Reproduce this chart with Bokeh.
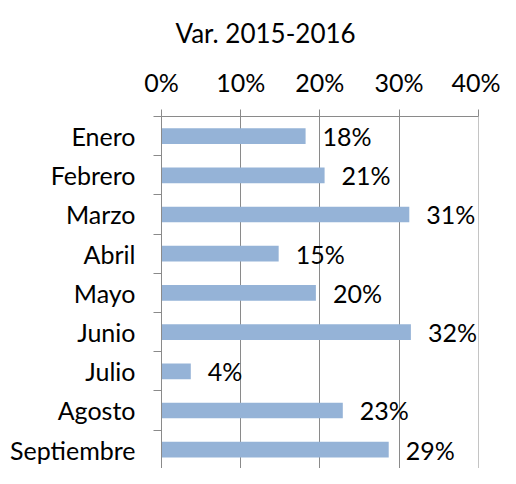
from bokeh.plotting import figure
from bokeh.models import Range1d, FixedTicker, NumeralTickFormatter, ColumnDataSource
from bokeh.embed import file_html
from bokeh.resources import INLINE
from bokeh.core.properties import value

months = ["Enero", "Febrero", "Marzo", "Abril", "Mayo", "Junio", "Julio", "Agosto", "Septiembre"]
variation = [0.182, 0.206, 0.313, 0.148, 0.195, 0.315, 0.037, 0.229, 0.287]
value_labels = ["18%", "21%", "31%", "15%", "20%", "32%", "4%", "23%", "29%"]
x_ticks = [0.0, 0.1, 0.2, 0.3, 0.4]
title_text = "Var. 2015-2016"

FONT = "Lato"
FS = "25px"
GRID = "#8a8a8a"

rows = list(range(len(months)))
src = ColumnDataSource(dict(y=rows, v=variation, lab=value_labels))

p = figure(width=500, height=468, x_range=Range1d(0, 0.4004), y_range=Range1d(8.48, -0.5),
           output_backend="svg", toolbar_location=None, x_axis_location="above",
           min_border_left=161, min_border_right=22, min_border_top=115, min_border_bottom=0)
p.outline_line_color = None
p.background_fill_color = "white"

p.hbar(y="y", right="v", left=0, height=0.4, source=src, fill_color="#95B3D7", line_color=None)
p.text(x="v", y="y", text="lab", source=src, x_offset=17, text_baseline="middle", text_align="left",
       text_font=value(FONT), text_font_size=FS, text_color="black")

xa = p.xaxis[0]
xa.ticker = FixedTicker(ticks=x_ticks, minor_ticks=[])
xa.formatter = NumeralTickFormatter(format="0%")
xa.major_tick_out = 7
xa.major_tick_in = 0
xa.minor_tick_out = 0
xa.minor_tick_in = 0
xa.axis_line_color = GRID
xa.major_tick_line_color = GRID
xa.major_label_text_font = FONT
xa.major_label_text_font_size = FS
xa.major_label_text_color = "black"
xa.major_label_standoff = 13

ya = p.yaxis[0]
ya.ticker = FixedTicker(ticks=rows, minor_ticks=[r - 0.5 for r in rows] + [len(rows) - 0.5])
ya.major_label_overrides = {i: m for i, m in enumerate(months)}
ya.major_tick_out = 0
ya.major_tick_in = 0
ya.minor_tick_out = 8
ya.minor_tick_in = 0
ya.axis_line_color = GRID
ya.minor_tick_line_color = GRID
ya.major_label_text_font = FONT
ya.major_label_text_font_size = FS
ya.major_label_text_color = "black"
ya.major_label_standoff = 18

p.xgrid.ticker = FixedTicker(ticks=x_ticks)
p.xgrid.grid_line_color = GRID
p.ygrid.visible = False

p.title.text = title_text
p.title.align = "left"
p.title.offset = 14
p.title.standoff = 29
p.title.text_font = FONT
p.title.text_font_size = "26px"
p.title.text_font_style = "normal"
p.title.text_color = "black"

open("out.html", "w").write(file_html(p, INLINE))
